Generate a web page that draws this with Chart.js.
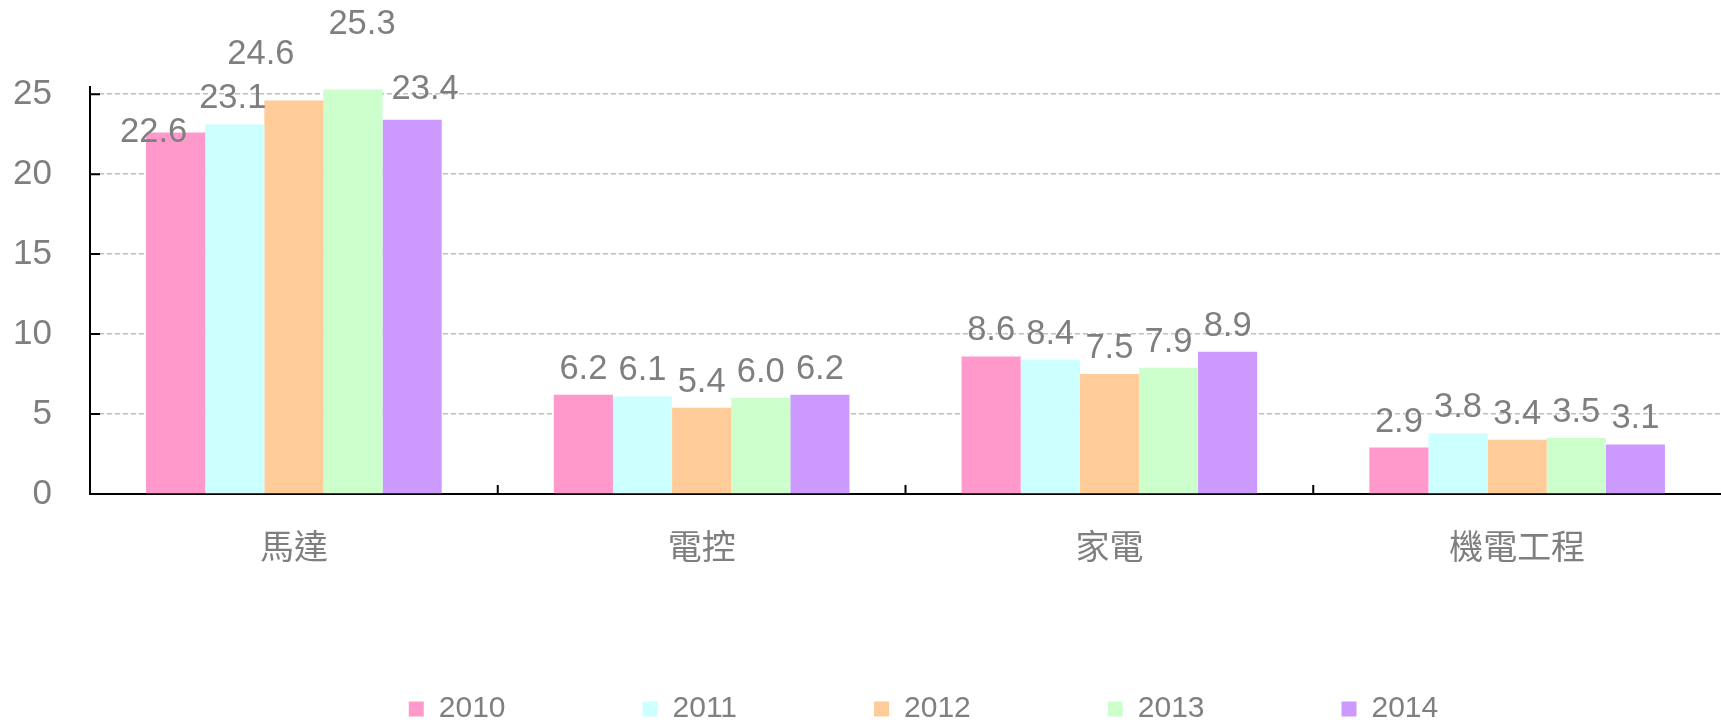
<!DOCTYPE html>
<html>
<head>
<meta charset="utf-8">
<script src="https://cdn.jsdelivr.net/npm/chart.js@4"></script>
<style>
html, body { margin: 0; padding: 0; background: #fff; }
#wrap { width: 1721px; height: 725px; }
</style>
</head>
<body>
<div id="wrap"><canvas id="barChart"></canvas></div>
<script>
const categories = ['馬達', '電控', '家電', '機電工程'];
const years = ['2010', '2011', '2012', '2013', '2014'];
const values2010 = [22.6, 6.2, 8.6, 2.9];
const values2011 = [23.1, 6.1, 8.4, 3.8];
const values2012 = [24.6, 5.4, 7.5, 3.4];
const values2013 = [25.3, 6.0, 7.9, 3.5];
const values2014 = [23.4, 6.2, 8.9, 3.1];
const yTicks = [0, 5, 10, 15, 20, 25];

const colors = ['#ff99cc', '#ccffff', '#ffcc99', '#ccffcc', '#cc99ff'];
const font = '"Liberation Sans", Arial, "Noto Sans CJK TC", sans-serif';
// labels of the first group sit a bit off in the original
const firstGroupNudge = [[-22, 25], [-2, -1], [-33, -21], [9, -39], [13, -5]];

const valueLabels = {
  id: 'valueLabels',
  afterDatasetsDraw(chart) {
    const c = chart.ctx;
    c.save();
    c.font = '34.5px ' + font;
    c.fillStyle = '#7f7f7f';
    c.textAlign = 'center';
    c.textBaseline = 'alphabetic';
    chart.data.datasets.forEach((ds, i) => {
      chart.getDatasetMeta(i).data.forEach((bar, j) => {
        const n = j === 0 ? firstGroupNudge[i] : [0, 0];
        c.fillText(ds.data[j].toFixed(1), bar.x + n[0], bar.y - 16 + n[1]);
      });
    });
    c.restore();
  }
};

const innerTicks = {
  id: 'innerTicks',
  afterDatasetsDraw(chart) {
    const { ctx: c, chartArea: a, scales: { x, y } } = chart;
    c.save();
    c.strokeStyle = '#000';
    c.lineWidth = 2;
    c.beginPath();
    yTicks.forEach(v => {
      if (v === 0) return;
      const py = y.getPixelForValue(v);
      c.moveTo(a.left, py);
      c.lineTo(a.left + 10, py);
    });
    for (let i = 1; i < categories.length; i++) {
      const px = (x.getPixelForValue(i - 1) + x.getPixelForValue(i)) / 2;
      c.moveTo(px, a.bottom);
      c.lineTo(px, a.bottom - 9);
    }
    c.stroke();
    c.restore();
  }
};

// nudge the legend row to where the original has it
const legendShift = {
  id: 'legendShift',
  afterLayout(chart) {
    const lg = chart.legend;
    lg.left += 54;
    lg.right += 54;
    lg.top -= 17;
  }
};

const series = [values2010, values2011, values2012, values2013, values2014];

const ctx = document.getElementById('barChart').getContext('2d');
window.barChart = new Chart(ctx, {
  type: 'bar',
  data: {
    labels: categories,
    datasets: years.map((yr, i) => ({
      label: yr,
      data: series[i],
      backgroundColor: colors[i],
      borderWidth: 0,
      categoryPercentage: 0.725,
      barPercentage: 1.0
    }))
  },
  options: {
    responsive: true,
    maintainAspectRatio: false,
    animation: false,
    layout: { padding: { top: 87, left: 13, right: -5, bottom: 0 } },
    plugins: {
      tooltip: { enabled: false },
      legend: {
        position: 'bottom',
        maxHeight: 151,
        labels: {
          boxWidth: 15,
          boxHeight: 15,
          padding: 137,
          color: '#7f7f7f',
          font: { size: 30, family: font }
        }
      }
    },
    scales: {
      x: {
        grid: { display: false, drawTicks: false },
        border: { display: true, color: '#000', width: 2 },
        ticks: { color: '#7f7f7f', padding: 35, font: { size: 34, family: font } },
        afterFit(scale) { scale.height = 80; }
      },
      y: {
        min: 0,
        max: 25.45,
        afterBuildTicks(scale) { scale.ticks = yTicks.map(v => ({ value: v })); },
        grid: { color: '#c0c0c0', lineWidth: 1.5, drawTicks: false },
        border: { display: true, color: '#000', width: 2, dash: [5, 3] },
        ticks: { color: '#7f7f7f', padding: 38, font: { size: 35, family: font } },
        afterFit(scale) { scale.width = 77; }
      }
    }
  },
  plugins: [valueLabels, innerTicks, legendShift]
});
</script>
</body>
</html>
